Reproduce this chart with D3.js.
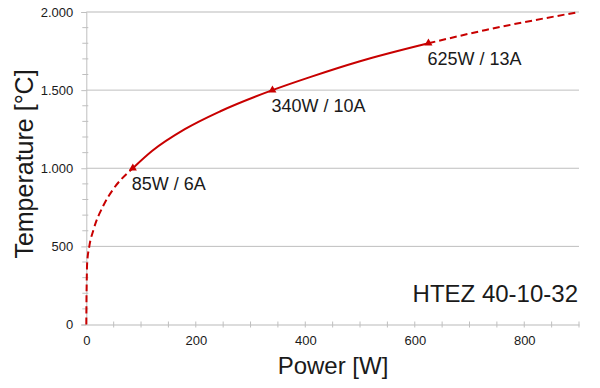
<!DOCTYPE html>
<html lang="de">
<head>
<meta charset="UTF-8">
<title>HTEZ 40-10-32</title>
<script src="https://d3js.org/d3.v7.min.js"></script>
<style>
  body { margin: 0; background: #fff; }
  svg text { font-family: "Liberation Sans", Arial, sans-serif; fill: #1a1a1a; }
</style>
</head>
<body>
<svg id="chart" width="600" height="388"></svg>
<script>
// curve: power [W] vs temperature [°C]
const lowPower  = [0, 0.3, 0.8, 1.5, 5.5, 13, 31, 50, 77, 85];
const lowTemp   = [0, 150, 280, 390, 500, 605, 760, 870, 975, 1000];
const midPower  = [85, 120, 180, 245, 340, 410, 500, 625];
const midTemp   = [1000, 1110, 1250, 1365, 1500, 1585, 1685, 1800];
const highPower = [625, 730, 900];
const highTemp  = [1800, 1885, 2000];

// marked operating points
const markPower  = [85, 340, 625];
const markTemp   = [1000, 1500, 1800];
const markLabels = ["85W / 6A", "340W / 10A", "625W / 13A"];

const xTicks = [0, 200, 400, 600, 800];
const yTicks = [0, 500, 1000, 1500, 2000];

const red = "#c80000";
const svg = d3.select("#chart");

const x = d3.scaleLinear().domain([0, 900]).range([86.3, 579]);
const y = d3.scaleLinear().domain([0, 2000]).range([324.5, 12]);

// german number format, 1.000 etc
const de = d3.formatLocale({decimal: ",", thousands: ".", grouping: [3], currency: ["", " €"]});
const fmt = de.format(",d");

// gridlines
svg.append("g").selectAll("line")
  .data(yTicks.filter(d => d > 0))
  .join("line")
  .attr("x1", x(0)).attr("x2", x(900))
  .attr("y1", d => y(d)).attr("y2", d => y(d))
  .attr("stroke", d => d === 2000 ? "#dcdcdc" : "#bfbfbf")
  .attr("stroke-width", d => d === 2000 ? 2 : 1);

// y axis
const yAxis = svg.append("g").attr("transform", `translate(${x(0)},0)`)
  .call(d3.axisLeft(y).tickValues(yTicks).tickFormat(fmt).tickSize(5).tickPadding(8));
yAxis.select(".domain").attr("stroke", "#bfbfbf");
yAxis.selectAll(".tick line").attr("stroke", "#bfbfbf");
yAxis.selectAll(".tick text").attr("font-size", 13).attr("fill", "#1a1a1a")
  .attr("font-family", "Liberation Sans, Arial, sans-serif");

// y minor ticks, every 100
svg.append("g").selectAll("line")
  .data(d3.range(100, 2000, 100).filter(d => d % 500 !== 0))
  .join("line")
  .attr("x1", x(0) - 4).attr("x2", x(0) + 2)
  .attr("y1", d => y(d)).attr("y2", d => y(d))
  .attr("stroke", "#bfbfbf");

// x axis
const xAxis = svg.append("g").attr("transform", `translate(0,${y(0)})`)
  .call(d3.axisBottom(x).tickValues(xTicks).tickSize(0).tickPadding(11));
xAxis.select(".domain").attr("stroke", "#dcdcdc").attr("stroke-width", 2);
xAxis.selectAll(".tick text").attr("font-size", 13).attr("fill", "#1a1a1a")
  .attr("font-family", "Liberation Sans, Arial, sans-serif");

// x ticks every 50, crossing the axis
svg.append("g").selectAll("line")
  .data(d3.range(50, 901, 50))
  .join("line")
  .attr("x1", d => x(d)).attr("x2", d => x(d))
  .attr("y1", y(0) - 3).attr("y2", y(0) + 3)
  .attr("stroke", "#bfbfbf");

// curve
const line = d3.line()
  .x(d => x(d[0])).y(d => y(d[1]))
  .curve(d3.curveMonotoneX);

function drawPart(pw, tp, dashed) {
  svg.append("path")
    .datum(d3.zip(pw, tp))
    .attr("d", line)
    .attr("fill", "none")
    .attr("stroke", red)
    .attr("stroke-width", 2)
    .attr("stroke-dasharray", dashed ? "7,4" : null);
}
drawPart(lowPower, lowTemp, true);
drawPart(midPower, midTemp, false);
drawPart(highPower, highTemp, true);

// markers + labels
const pts = d3.zip(markPower, markTemp, markLabels);
svg.append("g").selectAll("path")
  .data(pts)
  .join("path")
  .attr("d", d3.symbol(d3.symbolTriangle, 28))
  .attr("transform", d => `translate(${x(d[0])},${y(d[1])})`)
  .attr("fill", red);

svg.append("g").selectAll("text")
  .data(pts)
  .join("text")
  .attr("x", d => x(d[0]) - 1)
  .attr("y", d => y(d[1]) + 22)
  .attr("font-size", 18)
  .text(d => d[2]);

// titles
svg.append("text")
  .attr("x", 578).attr("y", 302)
  .attr("text-anchor", "end")
  .attr("font-size", 24)
  .text("HTEZ 40-10-32");

svg.append("text")
  .attr("x", 333).attr("y", 374)
  .attr("text-anchor", "middle")
  .attr("font-size", 24)
  .text("Power [W]");

svg.append("text")
  .attr("transform", "translate(33,164) rotate(-90)")
  .attr("text-anchor", "middle")
  .attr("font-size", 25)
  .text("Temperature [°C]");
</script>
</body>
</html>
